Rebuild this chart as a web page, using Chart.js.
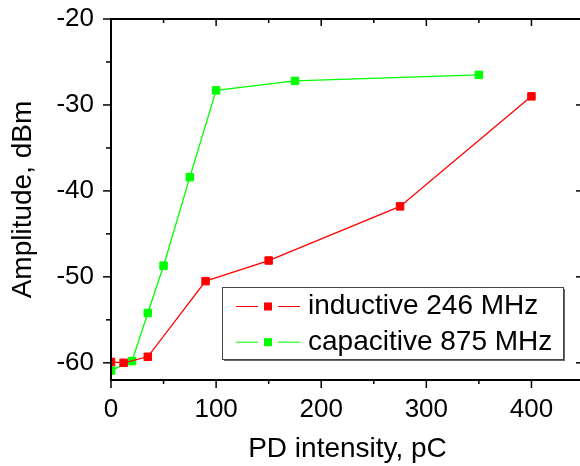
<!DOCTYPE html>
<html>
<head>
<meta charset="utf-8">
<script src="https://cdn.jsdelivr.net/npm/chart.js@4.4.1/dist/chart.umd.min.js"></script>
<style>
  html, body { margin: 0; padding: 0; overflow: hidden; background: #fff; }
  #wrap { width: 600px; height: 466px; }
</style>
</head>
<body>
<div id="wrap"><canvas id="c" width="600" height="466"></canvas></div>
<script>
// values
const seriesNames = ['inductive 246 MHz', 'capacitive 875 MHz'];
const inductiveX = [0, 12, 35, 90, 150, 275, 400];
const inductiveY = [-59.9, -60.0, -59.3, -50.5, -48.1, -41.8, -29.0];
const capacitiveX = [0, 20, 35, 50, 75, 100, 175, 350];
const capacitiveY = [-60.9, -59.8, -54.2, -48.7, -38.4, -28.3, -27.2, -26.5];
const xMajor = [0, 100, 200, 300, 400];
const xMinor = [50, 150, 250, 350, 450];
const yMajor = [-60, -50, -40, -30, -20];
const yMinor = [-55, -45, -35, -25];

const FONT = '"Liberation Sans", Arial, sans-serif';

const toPoints = (xs, ys) => xs.map((v, i) => ({ x: v, y: ys[i] }));

// frame with ticks on all four sides
const framePlugin = {
    id: 'frame',
    afterDatasetsDraw(chart) {
        const { ctx, chartArea: a, scales: { x, y } } = chart;
        ctx.save();
        ctx.strokeStyle = '#000';
        ctx.lineWidth = 2;
        ctx.strokeRect(a.left, a.top, a.right - a.left, a.bottom - a.top);
        ctx.lineWidth = 1.5;
        const tick = (x1, y1, x2, y2) => {
            ctx.beginPath();
            ctx.moveTo(x1, y1);
            ctx.lineTo(x2, y2);
            ctx.stroke();
        };
        xMajor.forEach(v => {
            const p = x.getPixelForValue(v);
            tick(p, a.bottom, p, a.bottom + 8);
            tick(p, a.top, p, a.top + 7);
        });
        xMinor.forEach(v => {
            const p = x.getPixelForValue(v);
            tick(p, a.bottom, p, a.bottom + 4);
            tick(p, a.top, p, a.top + 4);
        });
        yMajor.forEach(v => {
            const p = y.getPixelForValue(v);
            tick(a.left - 8, p, a.left, p);
            tick(a.right - 8, p, a.right, p);
        });
        yMinor.forEach(v => {
            const p = y.getPixelForValue(v);
            tick(a.left - 5, p, a.left, p);
            tick(a.right - 4, p, a.right, p);
        });
        ctx.restore();
    }
};

// boxed legend inside the plot
const legendPlugin = {
    id: 'boxLegend',
    afterDraw(chart) {
        const ctx = chart.ctx;
        const bx = 222, by = 287, bw = 341, bh = 72;
        ctx.save();
        ctx.fillStyle = '#666';
        ctx.fillRect(bx + 2, by + 2, bw, bh);
        ctx.fillStyle = '#fff';
        ctx.fillRect(bx, by, bw, bh);
        ctx.strokeStyle = '#444';
        ctx.lineWidth = 1;
        ctx.strokeRect(bx + 0.5, by + 0.5, bw, bh);
        chart.data.datasets.forEach((ds, i) => {
            const cy = 306.5 + i * 35.7;
            ctx.strokeStyle = ds.borderColor;
            ctx.lineWidth = 1;
            ctx.beginPath();
            ctx.moveTo(236, cy); ctx.lineTo(258, cy);
            ctx.moveTo(278, cy); ctx.lineTo(300, cy);
            ctx.stroke();
            ctx.fillStyle = ds.backgroundColor;
            ctx.fillRect(264, cy - 4, 8, 8);
            ctx.fillStyle = '#000';
            ctx.font = '28px ' + FONT;
            ctx.textBaseline = 'middle';
            ctx.textAlign = 'left';
            ctx.fillText(ds.label, 308, cy);
        });
        ctx.restore();
    }
};

const common = {
    showLine: true,
    borderWidth: 1.3,
    pointStyle: 'rect',
    pointRadius: 5.3,
    pointBorderWidth: 1
};

new Chart(document.getElementById('c'), {
    type: 'scatter',
    data: {
        datasets: [
            Object.assign({
                label: seriesNames[0],
                data: toPoints(inductiveX, inductiveY),
                borderColor: '#ff0000',
                backgroundColor: '#ff0000'
            }, common),
            Object.assign({
                label: seriesNames[1],
                data: toPoints(capacitiveX, capacitiveY),
                borderColor: '#00ff00',
                backgroundColor: '#00ff00'
            }, common)
        ]
    },
    options: {
        responsive: false,
        animation: false,
        devicePixelRatio: 1,
        layout: { padding: { left: 0, right: 16, top: 19, bottom: 0 } },
        plugins: {
            legend: { display: false },
            tooltip: { enabled: false }
        },
        scales: {
            x: {
                type: 'linear',
                min: 0,
                max: 450,
                grid: { display: false },
                border: { display: false },
                afterBuildTicks: s => { s.ticks = xMajor.map(v => ({ value: v })); },
                afterFit: s => {
                    s.height = 86;
                    s.paddingLeft = 0;
                    s.paddingRight = 0;
                },
                ticks: {
                    color: '#000',
                    font: { family: FONT, size: 26 },
                    padding: 6,
                    maxRotation: 0
                },
                title: {
                    display: true,
                    text: 'PD intensity, pC',
                    color: '#000',
                    font: { family: FONT, size: 28 },
                    padding: { top: 0, bottom: 0 }
                }
            },
            y: {
                type: 'linear',
                min: -62,
                max: -20,
                grid: { display: false },
                border: { display: false },
                afterBuildTicks: s => { s.ticks = yMajor.map(v => ({ value: v })); },
                afterFit: s => {
                    s.width = 111;
                    s.paddingTop = 0;
                    s.paddingBottom = 0;
                },
                ticks: {
                    color: '#000',
                    font: { family: FONT, size: 26 },
                    padding: 9
                },
                title: {
                    display: true,
                    text: 'Amplitude, dBm',
                    color: '#000',
                    font: { family: FONT, size: 28 },
                    padding: { top: 6, bottom: 0 }
                }
            }
        }
    },
    plugins: [framePlugin, legendPlugin]
});
</script>
</body>
</html>
